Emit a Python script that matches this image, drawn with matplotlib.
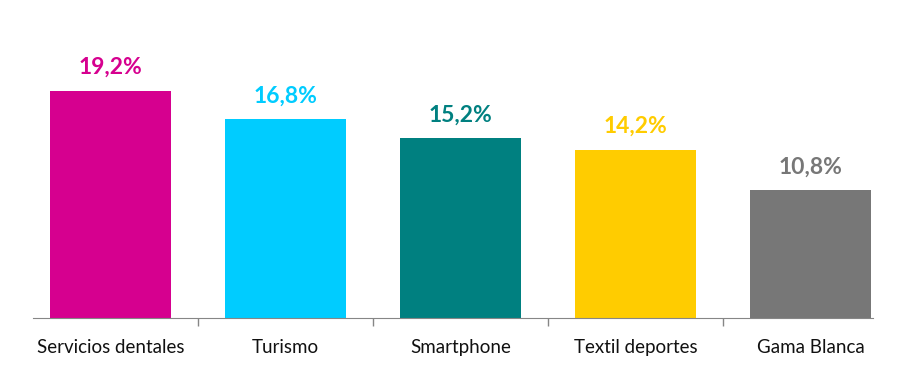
import numpy as np
import matplotlib.pyplot as plt

categories = ["Servicios dentales", "Turismo", "Smartphone", "Textil deportes", "Gama Blanca"]
values = [19.2, 16.8, 15.2, 14.2, 10.8]
labels = ["19,2%", "16,8%", "15,2%", "14,2%", "10,8%"]
colors = ["#D6008F", "#00CCFF", "#008080", "#FFCC00", "#777777"]

plt.rcParams['font.family'] = ['Lato', 'DejaVu Sans']

fig = plt.figure(figsize=(9.2, 3.7), dpi=100)
ax = fig.add_axes([33 / 920, 52 / 370, 840 / 920, 260 / 370])

x = np.arange(len(categories))
ax.bar(x, values, width=0.69, color=colors)

for xi, v, lab, c in zip(x, values, labels, colors):
    ax.text(xi, v + 1.1, lab, ha='center', va='bottom', fontsize=16.5,
            fontweight='bold', color=c, clip_on=False)

ax.set_xlim(-0.443, 4.357)
ax.set_ylim(0, 22)

ax.set_xticks(x)
ax.set_xticklabels(categories, fontsize=13.5, color='#111111')
ax.tick_params(axis='x', which='major', length=0, pad=15)
ax.set_xticks(x[:-1] + 0.5, minor=True)
ax.tick_params(axis='x', which='minor', length=6, color='#868686', width=1)
ax.set_yticks([])

for s in ['top', 'right', 'left']:
    ax.spines[s].set_visible(False)
ax.spines['bottom'].set_color('#868686')

fig.savefig('out.png', dpi=100)
